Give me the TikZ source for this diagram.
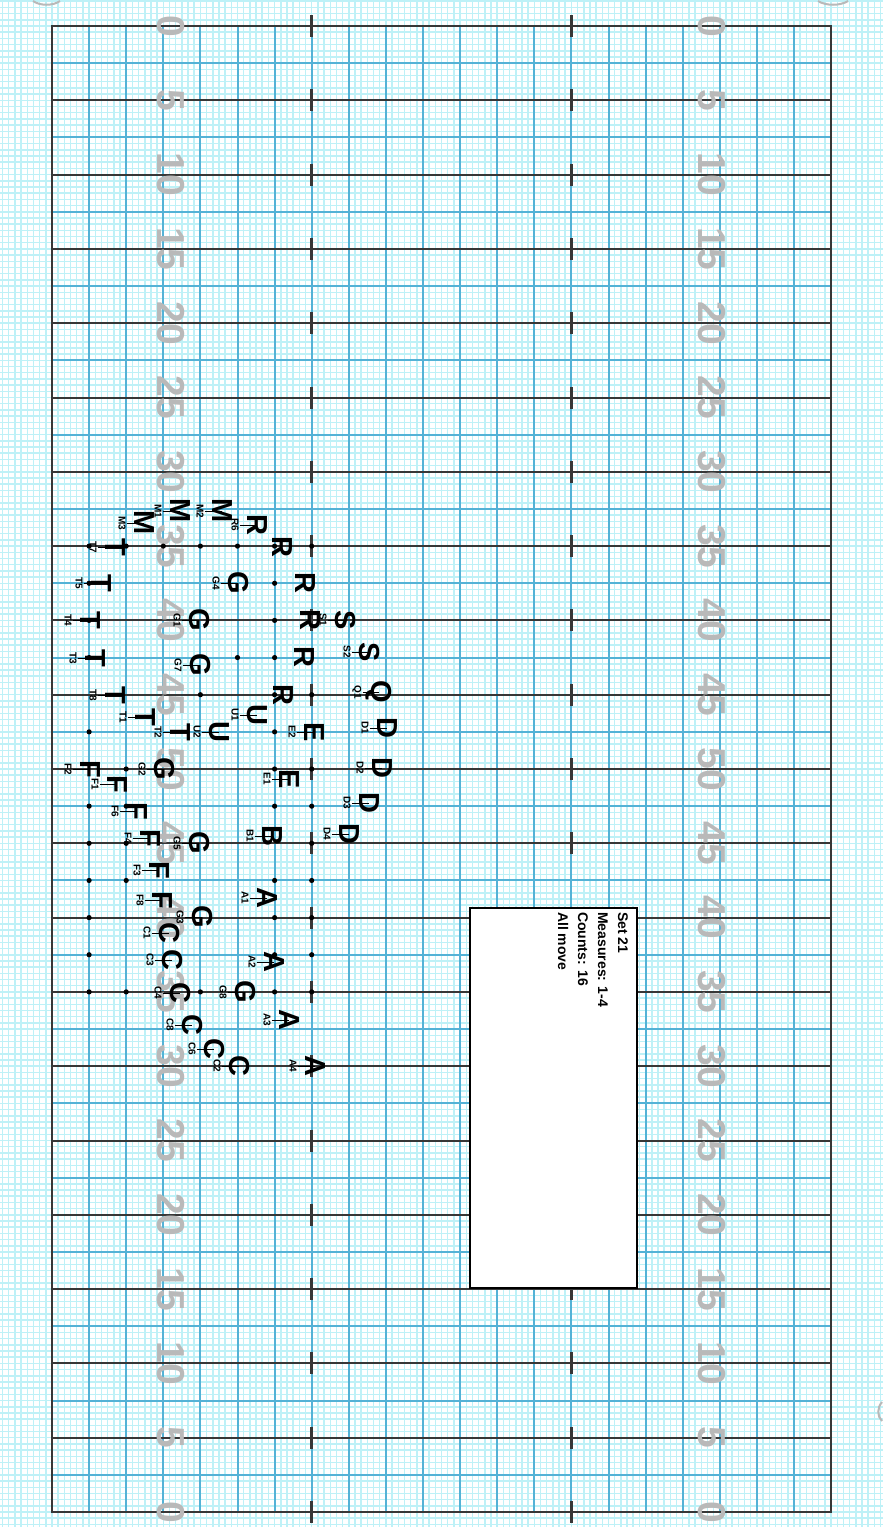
\documentclass[tikz,border=0pt]{standalone}
\usepackage{fontspec}
\setmainfont{Liberation Sans}
\definecolor{minorc}{RGB}{190,241,247}
\definecolor{majorc}{RGB}{84,178,214}
\definecolor{darkc}{RGB}{55,55,55}
\definecolor{numgray}{RGB}{185,185,185}
\tikzset{
  minorl/.style={line width=1.5pt, draw=minorc},
  bluel/.style={line width=2pt, draw=majorc},
  darkl/.style={line width=2pt, draw=darkc},
  hashtick/.style={line width=2.6pt, draw=darkc},
  ynum/.style={font=\bfseries\fontsize{39}{39}\selectfont, text=numgray, rotate=-90, inner sep=0pt},
  letter/.style={font=\bfseries\fontsize{29}{29}\selectfont, rotate=-90, inner sep=0pt, anchor=center},
  lab/.style={font=\bfseries\fontsize{10}{10}\selectfont, rotate=-90, inner sep=1pt},
  labline/.style={line width=1pt},
  infobox/.style={draw=black, fill=white, line width=1.3pt, minimum width=167pt, minimum height=380pt, inner sep=0pt},
  infotext/.style={font=\bfseries\fontsize{14}{20}\selectfont, rotate=-90, inner sep=0pt, align=left, anchor=north west},
  cornerarc/.style={line width=2pt, draw=numgray}
}
\newcommand\perfm[5]{%
  \node[letter] (L#5) at (#1,#2) {#3};
  \node[lab] (N#5) at ({#1-22},#2) {#4};
  \draw[labline] (N#5) -- (L#5.center);
}
\newcommand\perfr[3]{%
  \node[letter] (L#3) at (#1,#2) {R};
}
\begin{document}
\begin{tikzpicture}[x=1pt,y=-1pt]
\useasboundingbox (0,0) rectangle (883,1527);
\fill[white] (0,0) rectangle (883,1527);
% minor grid
\foreach \n in {-8,...,134} {\draw[minorl] ({52+6.1833*\n},0) -- ({52+6.1833*\n},1527);}
\foreach \m in {-4,...,243} {\draw[minorl] (0,{26+6.1917*\m}) -- (883,{26+6.1917*\m});}
% major grid
\foreach \k in {1,...,20} {\draw[bluel] ({52+37.1*\k},26) -- ({52+37.1*\k},1512);}
\foreach \j in {1,3,...,39} {\draw[bluel] (52,{26+37.15*\j}) -- (831.1,{26+37.15*\j});}
\foreach \j in {2,4,...,38} {\draw[darkl] (52,{26+37.15*\j}) -- (831.1,{26+37.15*\j});}
\foreach \j in {0,2,...,40} {\foreach \k in {7,14} {\draw[hashtick] ({52+37.1*\k},{26+37.15*\j-11}) -- ({52+37.1*\k},{26+37.15*\j+11});}}
\draw[darkl] (52,26) rectangle (831.1,1512);
% corner marks
\draw[cornerarc] (33,1) .. controls (40,6) and (53,6) .. (60,1);
\draw[cornerarc] (818,1) .. controls (826,6) and (840,6) .. (848,1);
\draw[cornerarc] (882,1402) .. controls (877,1408) and (877,1416) .. (882,1421);
% yard numbers
\foreach \i/\n in {0/0,1/5,2/10,3/15,4/20,5/25,6/30,7/35,8/40,9/45,10/50,11/45,12/40,13/35,14/30,15/25,16/20,17/15,18/10,19/5,20/0} {
  \node[ynum] (nl\i) at (171,{26+74.3*\i}) {\n};
  \node[ynum] (nr\i) at (712,{26+74.3*\i}) {\n};
}
% dots
\foreach \k/\j in {1/14,2/14,3/14,4/14,5/14,6/14,7/14,1/15,6/15,1/16,6/16,1/17,5/17,6/17,4/18,6/18,7/18,1/19,6/19,2/20,6/20,7/20,1/21,2/21,6/21,7/21,1/22,2/22,7/22,1/23,2/23,6/23,7/23,1/24,6/24,7/24,1/25,6/25,7/25,1/26,2/26,4/26,6/26,7/26} {
  \fill ({52+37.1*\k},{26+37.15*\j}) circle (2.6pt);
}
% performers
\perfm{144}{523}{M}{M3}{m3}
\perfm{180}{511}{M}{M1}{m1}
\perfm{222}{511}{M}{M2}{m2}
\perfm{257}{525}{R}{R6}{r6}
\perfr{282}{547}{ra}
\perfm{115}{547}{T}{T7}{t7}
\perfm{101}{583}{T}{T5}{t5}
\perfm{238}{583}{G}{G4}{g4}
\perfr{305}{583}{rb}
\perfm{90}{620}{T}{T4}{t4}
\perfm{199}{620}{G}{G1}{g1}
\perfr{310}{620}{rc}
\perfm{345}{620}{S}{S1}{s1}
\perfm{95}{658}{T}{T3}{t3}
\perfm{200}{665}{G}{G7}{g7}
\perfr{304}{657}{rd}
\perfm{369}{652}{S}{S2}{s2}
\perfm{115}{695}{T}{T8}{t8}
\perfr{283}{695}{re}
\perfm{379}{692}{Q}{Q1}{q1}
\perfm{145}{717}{T}{T1}{t1}
\perfm{257}{715}{U}{U1}{u1}
\perfm{180}{732}{T}{T2}{t2}
\perfm{219}{732}{U}{U2}{u2}
\perfm{314}{732}{E}{E2}{e2}
\perfm{387}{728}{D}{D1}{d1}
\perfm{90}{769}{F}{F2}{f2}
\perfm{164}{769}{G}{G2}{g2}
\perfm{117}{784}{F}{F1}{f1}
\perfm{289}{779}{E}{E1}{e1}
\perfm{382}{768}{D}{D2}{d2}
\perfm{137}{811}{F}{F6}{f6}
\perfm{369}{803}{D}{D3}{d3}
\perfm{150}{838}{F}{F4}{f4}
\perfm{199}{843}{G}{G5}{g5}
\perfm{272}{836}{B}{B1}{b1}
\perfm{349}{834}{D}{D4}{d4}
\perfm{159}{870}{F}{F3}{f3}
\perfm{162}{900}{F}{F8}{f8}
\perfm{267}{898}{A}{A1}{a1}
\perfm{202}{917}{G}{G3}{g3}
\perfm{169}{933}{C}{C1}{c1}
\perfm{172}{960}{C}{C3}{c3}
\perfm{274}{962}{A}{A2}{a2}
\perfm{180}{993}{C}{C4}{c4}
\perfm{245}{992}{G}{G8}{g8}
\perfm{289}{1020}{A}{A3}{a3}
\perfm{192}{1025}{C}{C8}{c8}
\perfm{214}{1049}{C}{C6}{c6}
\perfm{239}{1066}{C}{C2}{c2}
\perfm{315}{1066}{A}{A4}{a4}
% info box
\node[infobox] (box) at (553.5,1098) {};
\node[infotext] (info) at (628,912) {Set 21\\Measures: 1-4\\Counts: 16\\All move};
\end{tikzpicture}
\end{document}
